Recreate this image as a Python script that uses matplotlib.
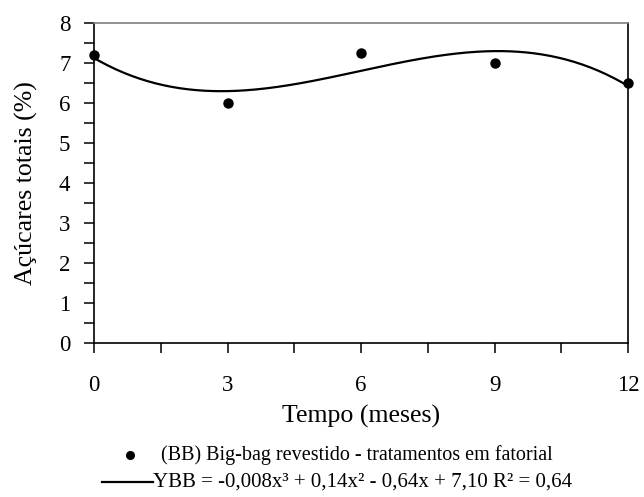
import numpy as np
import matplotlib
matplotlib.use("Agg")
import matplotlib.pyplot as plt
from matplotlib.lines import Line2D
from matplotlib.ticker import MultipleLocator

plt.rcParams['font.family'] = ['Liberation Serif', 'DejaVu Serif']

# observed values (months vs total sugars %)
tempo = [0, 3, 6, 9, 12]
acucares = [7.2, 6.0, 7.25, 7.0, 6.5]

legend_pts = "(BB) Big-bag revestido - tratamentos em fatorial"
legend_fit = "YBB = -0,008x³ + 0,14x² - 0,64x + 7,10 R² = 0,64"

# cubic regression over the observations
coef = np.polyfit(tempo, acucares, 3)
xs = np.linspace(0, 12, 200)
ys = np.polyval(coef, xs)

fig = plt.figure(figsize=(6.44, 4.97), dpi=100)
ax = fig.add_axes([94 / 644, 1 - 343 / 497, (628 - 94) / 644, (343 - 23) / 497])

ax.plot(xs, ys, color='black', lw=1.6, clip_on=False)
ax.plot(tempo, acucares, 'o', color='black', ms=6.5, clip_on=False, zorder=3)

ax.set_xlim(0, 12)
ax.set_ylim(0, 8)
ax.xaxis.set_major_locator(MultipleLocator(3))
ax.xaxis.set_minor_locator(MultipleLocator(1.5))
ax.yaxis.set_major_locator(MultipleLocator(1))
ax.yaxis.set_minor_locator(MultipleLocator(0.5))
ax.tick_params(which='both', direction='out', length=7, width=1.1, color='black')
ax.tick_params(axis='both', which='major', labelsize=16.5)
ax.tick_params(axis='x', which='major', pad=16)
ax.tick_params(axis='y', which='major', pad=10)

for side in ['left', 'bottom', 'right']:
    ax.spines[side].set_color('black')
    ax.spines[side].set_linewidth(1.2)
ax.spines['top'].set_color('#808080')
ax.spines['top'].set_linewidth(1.2)

ax.set_xlabel('Tempo (meses)', fontsize=18.6, labelpad=6.5)
ax.set_ylabel('Açúcares totais (%)', fontsize=18.6, labelpad=15)

# legend below the axis
fig.add_artist(Line2D([130 / 644], [1 - 455 / 497], marker='o', color='black',
                      ms=5.5, transform=fig.transFigure))
fig.text(161 / 644, 1 - 455 / 497, legend_pts, fontsize=14.5, va='center', ha='left')
fig.add_artist(Line2D([102 / 644, 153 / 644], [1 - 482 / 497] * 2, color='black',
                      lw=1.6, transform=fig.transFigure))
fig.text(153 / 644, 1 - 482 / 497, legend_fit, fontsize=15, va='center', ha='left')

fig.savefig('out.png', dpi=100)
